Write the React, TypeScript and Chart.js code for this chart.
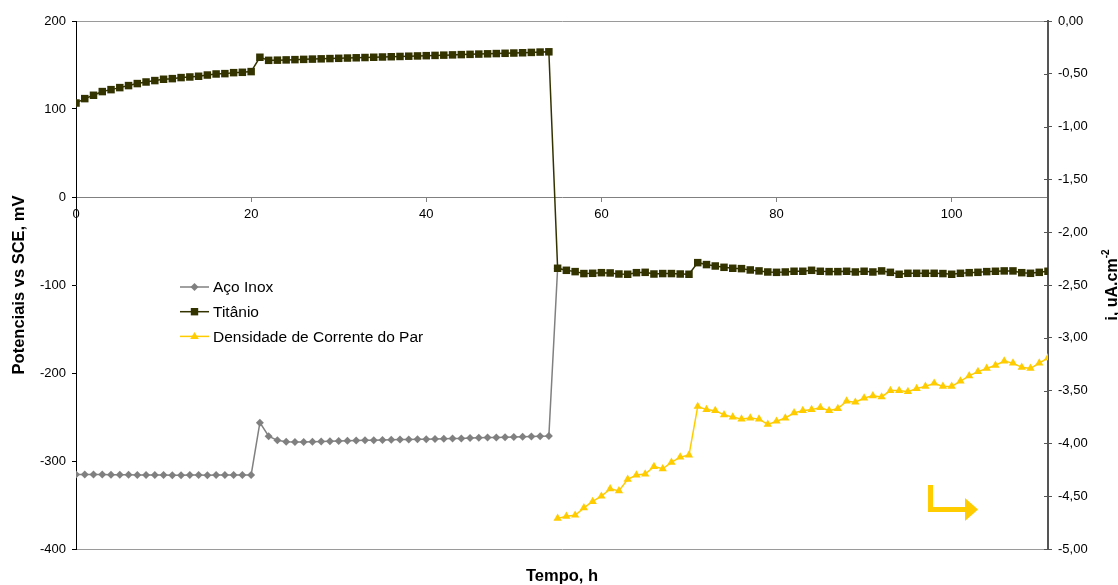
import React, { useEffect, useRef } from "react";
import { Chart, registerables } from "chart.js";

Chart.register(...registerables);

// ---- Data ----
const tempoH = [
  0, 1, 2, 3, 4, 5, 6, 7, 8, 9, 10, 11, 12, 13, 14, 15, 16, 17, 18, 19,
  20, 21, 22, 23, 24, 25, 26, 27, 28, 29, 30, 31, 32, 33, 34, 35, 36, 37, 38, 39,
  40, 41, 42, 43, 44, 45, 46, 47, 48, 49, 50, 51, 52, 53, 54, 55, 56, 57, 58, 59,
  60, 61, 62, 63, 64, 65, 66, 67, 68, 69, 70, 71, 72, 73, 74, 75, 76, 77, 78, 79,
  80, 81, 82, 83, 84, 85, 86, 87, 88, 89, 90, 91, 92, 93, 94, 95, 96, 97, 98, 99,
  100, 101, 102, 103, 104, 105, 106, 107, 108, 109, 110, 111,
];

// Aço Inox potential (mV vs SCE), hours 0..55
const acoInox = [
  -315.2, -315.3, -315.3, -315.4, -315.5, -315.6, -315.6, -315.8, -315.8, -316.0,
  -316.0, -316.1, -316.1, -316.0, -316.0, -316.1, -316.0, -316.0, -315.9, -315.9,
  -315.8, -256.4, -271.9, -276.5, -278.0, -278.4, -278.3, -278.2, -277.9, -277.6,
  -277.3, -277.0, -276.6, -276.5, -276.3, -276.1, -275.9, -275.7, -275.6, -275.4,
  -275.3, -275.0, -274.8, -274.5, -274.3, -274.0, -273.7, -273.4, -273.2, -273.0,
  -272.7, -272.5, -272.2, -271.9, -271.6, -81.0,
];

// Titânio potential (mV vs SCE), hours 0..111
const titanio = [
  106.8, 111.8, 115.6, 119.8, 122.0, 124.3, 126.6, 128.9, 130.7, 132.3,
  133.8, 134.5, 135.7, 136.4, 137.2, 138.6, 139.8, 140.2, 141.3, 141.7,
  142.5, 158.8, 155.3, 155.5, 155.8, 156.1, 156.4, 156.7, 157.0, 157.3,
  157.6, 157.9, 158.2, 158.5, 158.8, 159.1, 159.4, 159.7, 160.0, 160.3,
  160.6, 160.9, 161.2, 161.5, 161.8, 162.1, 162.4, 162.7, 163.0, 163.3,
  163.6, 163.9, 164.3, 164.7, 165.0,
  -81.0, -83.3, -84.8, -87.0, -86.7, -86.0, -86.3, -87.5, -87.8, -86.0,
  -85.6, -87.5, -87.0, -87.0, -87.5, -87.8,
  -74.6, -76.8, -78.4, -79.9, -81.0, -81.4, -82.9, -84.0, -85.2, -85.6,
  -85.2, -84.4, -84.4, -83.3, -84.4, -84.8, -84.8, -84.4, -85.2, -84.4,
  -85.2, -84.0, -85.6, -87.8, -86.7, -86.7, -86.7, -86.7, -87.0, -87.8,
  -86.7, -86.0, -85.6, -84.8, -84.4, -84.0, -84.0, -86.0, -86.7, -85.6,
  -84.4,
];

// Densidade de Corrente do Par (uA.cm-2), hours 55..111
const densidade = [
  -4.71, -4.69, -4.68, -4.61, -4.55, -4.50, -4.43, -4.45, -4.34, -4.30,
  -4.29, -4.22, -4.24, -4.18, -4.13, -4.11,
  -3.65, -3.68, -3.69, -3.73, -3.75, -3.77, -3.76, -3.77, -3.82, -3.79,
  -3.76, -3.71, -3.69, -3.68, -3.66, -3.69, -3.67,
  -3.60, -3.61, -3.57, -3.55, -3.56, -3.50, -3.50, -3.51, -3.48, -3.46,
  -3.43, -3.46, -3.46, -3.41, -3.36, -3.32, -3.29, -3.26, -3.22, -3.24,
  -3.28, -3.29, -3.24, -3.19,
];

const xTicks = [0, 20, 40, 60, 80, 100];
const yTicks = [-400, -300, -200, -100, 0, 100, 200];
const y2Ticks = [-5, -4.5, -4, -3.5, -3, -2.5, -2, -1.5, -1, -0.5, 0];

const seriesNames = ["Aço Inox", "Titânio", "Densidade de Corrente do Par"];
const xTitle = "Tempo, h";
const yTitle = "Potenciais vs SCE, mV";
const y2TitleMain = "i, uA.cm";
const y2TitleSup = "-2";

const FONT = "'Liberation Sans', Arial, Helvetica, sans-serif";
const GREY = "#808080";
const OLIVE = "#333300";
const YELLOW = "#FFCC00";

function drawMarker(ctx: CanvasRenderingContext2D, style: string, x: number, y: number, color: string) {
  ctx.fillStyle = color;
  ctx.beginPath();
  if (style === "rect") {
    ctx.rect(x - 3.7, y - 3.7, 7.4, 7.4);
  } else if (style === "rectRot") {
    ctx.moveTo(x, y - 4);
    ctx.lineTo(x + 4, y);
    ctx.lineTo(x, y + 4);
    ctx.lineTo(x - 4, y);
    ctx.closePath();
  } else {
    ctx.moveTo(x, y - 4.5);
    ctx.lineTo(x + 4.3, y + 2.7);
    ctx.lineTo(x - 4.3, y + 2.7);
    ctx.closePath();
  }
  ctx.fill();
}

const decor = {
  id: "decor",
  afterDraw(chart: any) {
    const ctx: CanvasRenderingContext2D = chart.ctx;
    const area = chart.chartArea;
    const y2 = chart.scales.y2;
    ctx.save();

    // inner part of right-axis tick marks
    ctx.strokeStyle = "#555555";
    ctx.lineWidth = 1;
    y2.ticks.forEach((t: any) => {
      const py = Math.round(y2.getPixelForValue(t.value)) + 0.5;
      ctx.beginPath();
      ctx.moveTo(area.right - 4, py);
      ctx.lineTo(area.right, py);
      ctx.stroke();
    });

    // legend inside plot
    const lx = area.left + 104;
    const ly = area.top + 266;
    chart.data.datasets.forEach((ds: any, i: number) => {
      const y = ly + i * 24.7;
      ctx.strokeStyle = ds.borderColor;
      ctx.lineWidth = 1.5;
      ctx.beginPath();
      ctx.moveTo(lx, y);
      ctx.lineTo(lx + 29, y);
      ctx.stroke();
      drawMarker(ctx, ds.pointStyle, lx + 14.5, y, ds.pointBackgroundColor);
      ctx.fillStyle = "#000";
      ctx.font = `15.5px ${FONT}`;
      ctx.textAlign = "left";
      ctx.textBaseline = "middle";
      ctx.fillText(ds.label, lx + 33, y + 1);
    });

    // yellow L-arrow pointing right (towards right axis)
    const ax = area.right - 117.5;
    const ab = area.bottom;
    ctx.strokeStyle = YELLOW;
    ctx.fillStyle = YELLOW;
    ctx.lineWidth = 5;
    ctx.lineCap = "butt";
    ctx.lineJoin = "miter";
    ctx.beginPath();
    ctx.moveTo(ax, ab - 64);
    ctx.lineTo(ax, ab - 39.5);
    ctx.lineTo(area.right - 82, ab - 39.5);
    ctx.stroke();
    ctx.beginPath();
    ctx.moveTo(area.right - 83, ab - 51);
    ctx.lineTo(area.right - 70, ab - 39.5);
    ctx.lineTo(area.right - 83, ab - 28);
    ctx.closePath();
    ctx.fill();

    // axis titles
    ctx.fillStyle = "#000";
    ctx.font = `bold 16.5px ${FONT}`;
    ctx.textAlign = "center";
    ctx.textBaseline = "middle";
    ctx.fillText(xTitle, (area.left + area.right) / 2, 576);

    ctx.save();
    ctx.translate(19, (area.top + area.bottom) / 2);
    ctx.rotate(-Math.PI / 2);
    ctx.fillText(yTitle, 0, 0);
    ctx.restore();

    ctx.save();
    ctx.translate(1111, (area.top + area.bottom) / 2);
    ctx.rotate(-Math.PI / 2);
    ctx.font = `bold 16px ${FONT}`;
    const w1 = ctx.measureText(y2TitleMain).width;
    ctx.font = `bold 10px ${FONT}`;
    const w2 = ctx.measureText(y2TitleSup).width;
    const start = -(w1 + w2) / 2;
    ctx.textAlign = "left";
    ctx.textBaseline = "alphabetic";
    ctx.font = `bold 16px ${FONT}`;
    ctx.fillText(y2TitleMain, start, 6);
    ctx.font = `bold 10px ${FONT}`;
    ctx.fillText(y2TitleSup, start + w1, -2);
    ctx.restore();

    ctx.restore();
  },
};

export default function App() {
  const ref = useRef<HTMLCanvasElement>(null);

  useEffect(() => {
    if (!ref.current) return;
    const chart = new Chart(ref.current, {
      type: "line",
      data: {
        datasets: [
          {
            label: seriesNames[0],
            data: acoInox.map((v, i) => ({ x: tempoH[i], y: v })),
            borderColor: GREY,
            backgroundColor: GREY,
            pointBackgroundColor: GREY,
            pointBorderColor: GREY,
            pointStyle: "rectRot",
            pointRadius: 4,
            pointBorderWidth: 0,
            borderWidth: 1.5,
            yAxisID: "y",
            order: 3,
          },
          {
            label: seriesNames[1],
            data: titanio.map((v, i) => ({ x: tempoH[i], y: v })),
            borderColor: OLIVE,
            backgroundColor: OLIVE,
            pointBackgroundColor: OLIVE,
            pointBorderColor: OLIVE,
            pointStyle: "rect",
            pointRadius: 5.3,
            pointBorderWidth: 0,
            borderWidth: 1.5,
            yAxisID: "y",
            order: 2,
          },
          {
            label: seriesNames[2],
            data: densidade.map((v, i) => ({ x: tempoH[i + 55], y: v })),
            borderColor: YELLOW,
            backgroundColor: YELLOW,
            pointBackgroundColor: YELLOW,
            pointBorderColor: YELLOW,
            pointStyle: "triangle",
            pointRadius: 4.8,
            pointBorderWidth: 0,
            borderWidth: 1.5,
            yAxisID: "y2",
            order: 1,
          },
        ],
      },
      options: {
        animation: false,
        responsive: true,
        maintainAspectRatio: false,
        layout: { padding: { top: 21, bottom: 36, left: 0, right: 0 } },
        plugins: {
          legend: { display: false },
          tooltip: { enabled: false },
        },
        elements: { line: { tension: 0 } },
        scales: {
          x: {
            type: "linear",
            min: 0,
            max: 111,
            position: { y: 0 } as any,
            afterBuildTicks: (s: any) => {
              s.ticks = xTicks.map((v) => ({ value: v }));
            },
            ticks: {
              color: "#000",
              font: { family: FONT, size: 13 },
              padding: 6,
              maxRotation: 0,
            },
            grid: {
              drawOnChartArea: false,
              drawTicks: true,
              tickLength: 4,
              color: GREY,
            },
            border: { color: GREY, width: 1 },
          },
          y: {
            type: "linear",
            position: "left",
            min: -400,
            max: 200,
            afterBuildTicks: (s: any) => {
              s.ticks = yTicks.map((v) => ({ value: v }));
            },
            afterFit: (s: any) => {
              s.width = 76;
            },
            ticks: {
              color: "#000",
              font: { family: FONT, size: 13 },
              padding: 6,
            },
            grid: {
              drawOnChartArea: true,
              tickLength: 4,
              tickColor: "#000",
              color: (c: any) =>
                c.tick && (c.tick.value === 200 || c.tick.value === -400) ? "#9a9a9a" : "rgba(0,0,0,0)",
            },
            border: { color: "#000", width: 1 },
          },
          y2: {
            type: "linear",
            position: "right",
            min: -5,
            max: 0,
            afterBuildTicks: (s: any) => {
              s.ticks = y2Ticks.map((v) => ({ value: v }));
            },
            afterFit: (s: any) => {
              s.width = 70;
            },
            ticks: {
              color: "#000",
              font: { family: FONT, size: 13 },
              padding: 6,
              callback: (v: any) => Number(v).toFixed(2).replace(".", ","),
            },
            grid: {
              drawOnChartArea: false,
              tickLength: 4,
              color: "#555555",
            },
            border: { color: "#555555", width: 2 },
          },
        },
      },
      plugins: [decor],
    });
    return () => chart.destroy();
  }, []);

  return (
    <div
      style={{
        position: "fixed",
        left: 0,
        top: 0,
        width: 1118,
        height: 585,
        background: "#ffffff",
      }}
    >
      <canvas ref={ref} />
    </div>
  );
}
